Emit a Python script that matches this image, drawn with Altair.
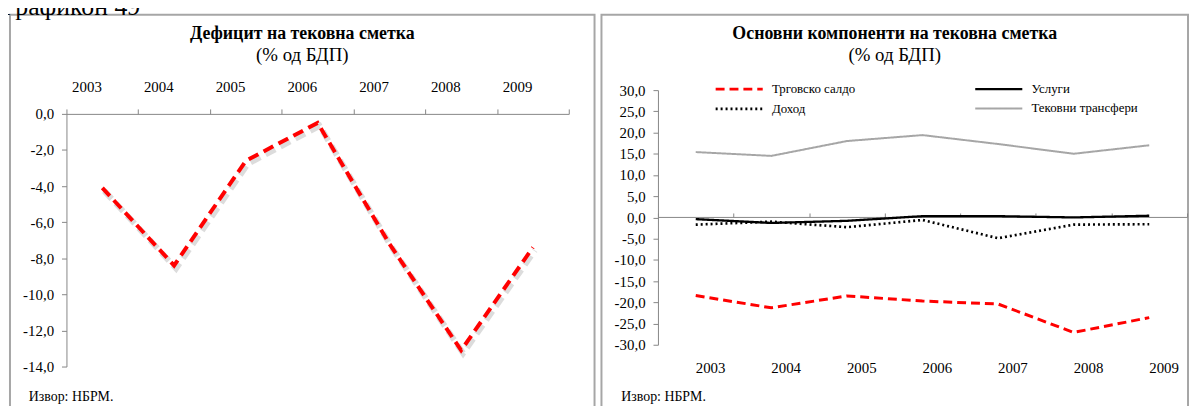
import altair as alt
import pandas as pd

# ---------------- data ----------------
years = ["2003", "2004", "2005", "2006", "2007", "2008", "2009"]
deficit = [-4.1, -8.4, -2.6, -0.5, -7.2, -13.1, -7.4]

# legend order (column-major): Трговско салдо, Доход | Услуги, Тековни трансфери
series_names = ["Трговско салдо", "Доход", "Услуги", "Тековни трансфери"]
trade = [-18.4, -21.3, -18.5, -19.7, -20.4, -27.1, -23.6]
income = [-1.7, -1.0, -2.3, -0.6, -4.9, -1.7, -1.6]
services = [-0.4, -1.3, -0.8, 0.3, 0.3, 0.0, 0.4]
transfers = [15.4, 14.5, 18.0, 19.4, 17.3, 15.0, 17.0]
series_values = [trade, income, services, transfers]
series_colors = ["#ff0000", "#000000", "#000000", "#a6a6a6"]
series_dashes = [[9, 5], [2, 3], [1, 0], [1, 0]]
series_widths = [3, 2, 3, 3]

left_ticks = [-14, -12, -10, -8, -6, -4, -2, 0]
right_ticks = [-30, -25, -20, -15, -10, -5, 0, 5, 10, 15, 20, 25, 30]

figure_label = "Графикон 49"
title_left = "Дефицит на тековна сметка"
title_right = "Основни компоненти на тековна сметка"
subtitle = "(% од БДП)"
source = "Извор: НБРМ."

# ---------------- style ----------------
FONT = "Liberation Serif"
AXIS_GRAY = "#868686"
LABEL_EXPR = "(datum.value < 0 ? '-' : '') + replace(format(abs(datum.value), '.1f'), '.', ',')"
W1, W2, H = 590, 592, 398
TICK_FS = 15

df1 = pd.DataFrame({"year": years, "value": deficit})
rows = []
for name, vals in zip(series_names, series_values):
    for yr, v in zip(years, vals):
        rows.append({"series": name, "year": yr, "value": v})
df2 = pd.DataFrame(rows)
df_src = pd.DataFrame({"t": [source]})


def title_params(text):
    return alt.TitleParams(
        text=text, subtitle=subtitle, font=FONT, fontSize=18, fontWeight="bold",
        color="black", subtitleFont=FONT, subtitleFontSize=19, subtitleColor="black",
        anchor="middle", offset=-51, subtitlePadding=4,
    )


# ---------------- left panel ----------------
x_left = alt.X(
    "year:O", sort=years, bandPosition=0.5,
    scale=alt.Scale(type="band", range=[57, 564], paddingInner=0, paddingOuter=0),
    axis=alt.Axis(orient="top", offset=-100, title=None, labelAngle=0, tickBand="extent",
                  tickSize=5, tickColor=AXIS_GRAY, domainColor=AXIS_GRAY, labelOffset=-16,
                  labelPadding=15, labelFontSize=TICK_FS, labelFont=FONT, labelColor="black"),
)
y_left = alt.Y(
    "value:Q",
    scale=alt.Scale(domain=[-14, 0], range=[355, 100], nice=False, zero=False),
    axis=alt.Axis(orient="left", offset=-57, values=left_ticks, labelExpr=LABEL_EXPR, title=None,
                  tickSize=5, tickColor=AXIS_GRAY, domainColor=AXIS_GRAY, labelPadding=8,
                  labelFontSize=TICK_FS, labelFont=FONT, labelColor="black", grid=False),
)
shadow_left = alt.Chart(df1).mark_line(
    color="#9a9a9a", opacity=0.35, strokeWidth=6, strokeDash=[11, 6], xOffset=2, yOffset=3
).encode(x=x_left, y=y_left)
line_left = alt.Chart(df1).mark_line(color="#ff0000", strokeWidth=4, strokeDash=[11, 6]).encode(
    x=x_left, y=y_left
)
src_left = alt.Chart(df_src).mark_text(align="left", baseline="middle", font=FONT, fontSize=14,
                                       color="black").encode(
    x=alt.value(19), y=alt.value(386), text="t:N"
)
left = alt.layer(shadow_left, line_left, src_left).properties(
    width=W1, height=H, title=title_params(title_left)
)

# ---------------- right panel ----------------
x_scale_r = alt.Scale(type="band", range=[57, 591], paddingInner=0, paddingOuter=0)
x_right_labels = alt.X(
    "year:O", sort=years, bandPosition=0.5, scale=x_scale_r,
    axis=alt.Axis(orient="bottom", offset=-65, title=None, labelAngle=0, domain=False, ticks=False,
                  tickSize=0, labelOffset=15, labelPadding=16, labelFontSize=TICK_FS, labelFont=FONT,
                  labelColor="black"),
)
x_right_zero = alt.X(
    "year:O", sort=years, bandPosition=0.5, scale=x_scale_r,
    axis=alt.Axis(orient="top", offset=-204, title=None, labels=False, tickBand="extent",
                  tickSize=4, tickColor=AXIS_GRAY, domainColor=AXIS_GRAY),
)
y_scale_r = alt.Scale(domain=[-30, 30], range=[333, 76], nice=False, zero=False)
y_right = alt.Y(
    "value:Q", scale=y_scale_r,
    axis=alt.Axis(orient="left", offset=-57, values=right_ticks, labelExpr=LABEL_EXPR, title=None,
                  tickSize=5, tickColor=AXIS_GRAY, domainColor=AXIS_GRAY, labelPadding=8,
                  labelFontSize=TICK_FS, labelFont=FONT, labelColor="black", grid=False),
)
legend = alt.Legend(
    title=None, orient="none", legendX=128, legendY=64, columns=2,
    symbolType="M-2.5,0H2.5", symbolSize=361, symbolStrokeWidth=3,
    labelFont=FONT, labelFontSize=13, labelColor="black",
    labelOffset=22, rowPadding=2, columnPadding=115, padding=0,
)
color = alt.Color("series:N", sort=series_names,
                  scale=alt.Scale(domain=series_names, range=series_colors), legend=legend)
dash = alt.StrokeDash("series:N", sort=series_names,
                      scale=alt.Scale(domain=series_names, range=series_dashes), legend=legend)
swidth = alt.StrokeWidth("series:N", sort=series_names,
                         scale=alt.Scale(domain=series_names, range=series_widths), legend=None)

zero_axis = alt.Chart(df2).mark_line(opacity=0).encode(
    x=x_right_zero, y=y_right, detail="series:N"
)
lines_right = alt.Chart(df2).mark_line().encode(
    x=x_right_labels, y=y_right, color=color, strokeDash=dash, strokeWidth=swidth,
    detail="series:N",
)
src_right = alt.Chart(df_src).mark_text(align="left", baseline="middle", font=FONT, fontSize=14,
                                        color="black").encode(
    x=alt.value(20), y=alt.value(386), text="t:N"
)
right = alt.layer(zero_axis, lines_right, src_right).resolve_axis(x="independent").properties(
    width=W2, height=H, title=title_params(title_right)
)

chart = (
    alt.hconcat(left, right, spacing=5)
    .resolve_scale(color="independent", strokeDash="independent", strokeWidth="independent")
    .resolve_legend(color="independent", strokeDash="independent")
    .properties(
        padding={"left": -6, "top": -16, "right": 0, "bottom": 0},
        background="white",
        title=alt.TitleParams(text=figure_label, font=FONT, fontSize=26, fontWeight="normal",
                              color="black", anchor="start", dx=-7, offset=-6),
    )
    .configure_view(stroke="#a6a6a6", strokeWidth=2)
)

chart.save("out.html", embed_options={"renderer": "svg", "actions": False})
